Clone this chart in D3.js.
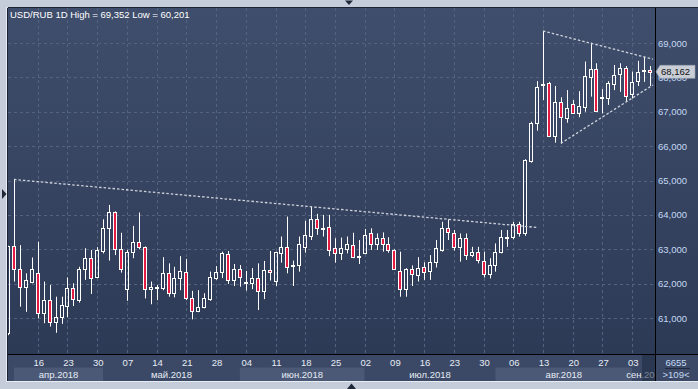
<!DOCTYPE html>
<html><head><meta charset="utf-8">
<script src="https://cdn.jsdelivr.net/npm/d3@7"></script>
<style>body{margin:0;background:#c4cdd9;overflow:hidden}svg{display:block}</style>
</head><body>
<svg id="c" width="698" height="389"></svg>
<script>
const title = "USD/RUB 1D High = 69,352 Low = 60,201";
const open  = [60.56,63.09,62.44,61.91,62.06,62.30,61.14,61.52,60.87,61.02,61.35,61.86,61.52,62.42,62.74,62.18,62.96,63.61,64.07,63.00,
61.84,62.91,63.20,63.06,61.84,61.88,61.86,62.30,61.72,62.16,62.33,61.57,61.19,61.31,61.54,62.16,62.33,62.85,62.12,62.42,
62.05,62.03,62.16,61.80,62.40,62.09,62.88,63.06,62.53,62.54,63.07,63.40,63.87,63.62,63.64,63.03,62.90,63.01,63.12,62.78,
62.90,63.46,63.14,63.32,63.14,62.98,62.37,61.84,62.42,62.25,62.48,62.37,62.62,62.98,63.61,63.46,63.07,63.32,62.82,62.93,
62.67,62.27,62.54,62.93,63.34,63.37,63.73,63.48,65.58,66.66,67.79,67.83,66.30,67.27,66.81,67.22,66.96,67.13,68.02,68.24,
67.40,67.39,67.80,68.09,68.26,67.51,67.89,68.19,68.21];
const high  = [63.10,65.03,63.12,62.30,62.76,63.22,62.06,61.96,61.62,61.62,62.18,62.01,62.49,63.03,62.98,63.06,63.87,64.29,64.10,63.48,
62.98,63.68,64.07,63.08,62.06,61.96,62.77,62.59,62.49,62.80,62.72,61.79,61.81,61.72,62.35,62.51,62.93,62.95,62.57,62.54,
62.37,62.45,62.59,62.66,62.95,62.93,63.37,63.95,62.67,63.37,63.83,64.24,64.03,64.00,64.00,63.32,63.34,63.37,63.48,63.27,
63.59,63.61,63.46,63.49,63.35,63.00,62.93,62.45,62.53,62.77,62.62,62.83,63.27,63.80,63.87,63.56,63.46,63.46,63.07,63.07,
62.93,62.74,63.17,63.56,63.56,63.80,63.80,65.62,66.71,67.89,69.35,67.87,67.75,67.42,67.63,67.34,67.60,68.46,69.01,68.41,
67.66,67.89,68.36,68.41,68.33,68.17,68.48,68.60,68.33];
const low   = [60.50,62.06,61.33,61.18,62.01,60.99,60.85,60.75,60.57,60.83,61.02,61.35,61.45,62.11,61.70,62.16,62.88,62.67,62.83,62.32,
61.50,62.74,63.00,61.57,61.40,61.52,61.81,61.62,61.60,61.81,61.52,60.96,61.17,61.28,61.50,62.11,62.16,61.99,61.93,61.91,
61.80,61.84,61.23,61.55,62.09,61.93,62.61,62.30,61.93,62.35,62.90,63.27,63.42,63.37,62.80,62.61,62.69,62.88,62.74,62.57,
62.86,62.98,62.98,62.93,62.90,62.40,61.62,61.62,61.93,62.06,62.11,62.11,62.47,62.93,63.27,62.96,62.64,62.69,62.77,62.59,
62.18,62.15,62.35,62.88,63.07,63.29,63.37,63.39,65.52,66.45,67.34,66.28,66.10,66.08,66.68,66.95,66.84,67.00,67.44,67.00,
66.95,67.20,67.63,67.58,67.29,67.39,67.75,67.87,67.75];
const close = [63.09,62.44,61.89,62.12,62.43,61.14,61.52,60.89,61.02,61.38,61.86,61.54,62.43,62.74,62.16,62.98,63.61,64.07,63.00,62.44,
62.91,63.20,63.06,61.84,61.91,61.89,62.30,61.72,62.16,62.37,61.57,61.19,61.31,61.57,62.20,62.33,62.88,62.12,62.42,62.20,
62.06,62.16,61.80,62.40,62.33,62.91,63.07,62.49,62.55,63.15,63.42,63.87,63.61,63.63,62.98,62.90,63.03,63.14,62.78,62.79,
63.42,63.15,63.32,63.14,62.98,62.44,61.84,62.42,62.27,62.45,62.33,62.63,63.03,63.61,63.49,63.07,63.32,62.83,62.93,62.69,
62.27,62.54,62.93,63.35,63.36,63.73,63.48,65.60,66.66,67.71,67.81,66.30,67.27,66.84,67.10,66.96,67.17,68.04,68.24,67.02,
67.42,67.83,68.07,68.26,67.46,67.87,68.17,68.21,68.162];

const priceTicks  = [61,62,63,64,65,66,67,68,69];
const priceLabels = ["61,000","62,000","63,000","64,000","65,000","66,000","67,000","68,000","69,000"];
const weekIdx    = [5,10,15,20,25,30,35,40,45,50,55,60,65,70,75,80,85,90,95,100,105];
const weekLabels = ["16","23","30","07","14","21","28","04","11","18","25","02","09","16","23","30","06","13","20","27","03"];
const monthLabels = ["апр.2018","май.2018","июн.2018","июл.2018","авг.2018","сен.20"];
const monthStart  = [1,16,39,60,82,105];
const lastValue = 68.162, lastLabel = "68,162";
const volumeLabel = "6655", countLabel = ">109<";
const trendLines = [
  {i0:1,  v0:65.03, i1:89.2,  v1:63.63},
  {i0:90, v0:69.35, i1:108.5, v1:68.53},
  {i0:93, v0:66.08, i1:108.5, v1:67.78}
];

const W=698,H=389, L=8, T=8, R=655, B=354, AB=381;
const FONT='"Liberation Sans", Arial, sans-serif';
const svg=d3.select("#c");
const x=d3.scaleLinear().domain([0,108]).range([8,650]);
const y=d3.scaleLinear().domain([61,69]).range([318,43]);

const defs=svg.append("defs");
const g1=defs.append("linearGradient").attr("id","bg").attr("x1",0).attr("y1",0).attr("x2",0).attr("y2",1);
g1.append("stop").attr("offset","0%").attr("stop-color","#3f4e6c");
g1.append("stop").attr("offset","100%").attr("stop-color","#2d3a56");
defs.append("clipPath").attr("id","pc").append("rect").attr("x",L).attr("y",T).attr("width",R-L).attr("height",B-T);

// frame
svg.append("rect").attr("width",W).attr("height",H).attr("fill","#c4cdd9");
svg.append("line").attr("x1",6.5).attr("x2",6.5).attr("y1",7).attr("y2",382).attr("stroke","#e8edf3");
svg.append("line").attr("x1",6).attr("x2",W).attr("y1",381.5).attr("y2",381.5).attr("stroke","#e8edf3");
// plot + right panel bg
svg.append("rect").attr("x",L).attr("y",T).attr("width",W-L).attr("height",B-T).attr("fill","url(#bg)");
// bottom axis bg
svg.append("rect").attr("x",L).attr("y",B).attr("width",W-L).attr("height",AB-B).attr("fill","#3b4966");
// month bands
monthLabels.forEach((m,k)=>{
  const x0 = x(monthStart[k]);
  const x1 = k<monthLabels.length-1 ? x(monthStart[k+1]) : R;
  svg.append("rect").attr("x",x0).attr("y",367.5).attr("width",x1-x0).attr("height",AB-367.5)
    .attr("fill", k%2===0 ? "#4b5976" : "#3b4966");
});
const gm=svg.append("g").attr("clip-path","url(#mc)");
defs.append("clipPath").attr("id","mc").append("rect").attr("x",L).attr("y",B).attr("width",R-L).attr("height",AB-B);
monthLabels.forEach((m,k)=>{
  const x0 = x(monthStart[k]);
  const last = k===monthLabels.length-1;
  const x1 = last ? R : x(monthStart[k+1]);
  gm.append("text").attr("x", last ? x0-6 : (x0+x1)/2).attr("y",377.5)
    .attr("text-anchor", last ? "start":"middle").attr("font-family",FONT).attr("font-size",9.5)
    .attr("fill","#e6ecf5").text(m);
});
svg.append("rect").attr("x",642).attr("y",355).attr("width",R-642).attr("height",AB-355).attr("fill","#1f2a40").attr("opacity",0.55);
// week labels
weekIdx.forEach((i,k)=>{
  svg.append("text").attr("x",x(i)+1).attr("y",365.5).attr("text-anchor","middle")
    .attr("font-family",FONT).attr("font-size",9.5).attr("fill","#e6ecf5").text(weekLabels[k]);
});

// grid
const grid=svg.append("g").attr("clip-path","url(#pc)").attr("stroke","#53627f").attr("stroke-dasharray","3,3");
priceTicks.forEach(v=>{
  grid.append("line").attr("x1",L).attr("x2",R).attr("y1",Math.round(y(v))+0.5).attr("y2",Math.round(y(v))+0.5);
});
weekIdx.forEach(i=>{
  grid.append("line").attr("y1",T).attr("y2",B).attr("x1",Math.round(x(i))+0.5).attr("x2",Math.round(x(i))+0.5);
});

// title
svg.append("text").attr("x",10).attr("y",18.4).attr("font-family",FONT).attr("font-size",9.5)
  .attr("fill","#ffffff").text(title);

// candles
const cg=svg.append("g").attr("clip-path","url(#pc)");
open.forEach((o,i)=>{
  const c=close[i], h=high[i], l=low[i];
  const cx=Math.round(x(i));
  const top=Math.round(y(Math.max(o,c))), bot=Math.round(y(Math.min(o,c)));
  const up = c>=o;
  cg.append("line").attr("x1",cx+0.5).attr("x2",cx+0.5).attr("y1",y(h)).attr("y2",top+0.5)
    .attr("stroke","#fff").attr("stroke-width",1);
  cg.append("line").attr("x1",cx+0.5).attr("x2",cx+0.5).attr("y1",bot+0.5).attr("y2",y(l))
    .attr("stroke","#fff").attr("stroke-width",1);
  cg.append("rect").attr("x",cx-1.5).attr("y",top+0.5).attr("width",3).attr("height",Math.max(1,bot-top))
    .attr("fill", up ? "none" : "#e41b43").attr("stroke","#fff").attr("stroke-width",1);
});

// trend lines
const tg=svg.append("g").attr("clip-path","url(#pc)");
trendLines.forEach(t=>{
  tg.append("line").attr("x1",x(t.i0)).attr("y1",y(t.v0)).attr("x2",x(t.i1)).attr("y2",y(t.v1))
    .attr("stroke","#cfd3db").attr("stroke-width",1.3).attr("stroke-dasharray","2.5,2");
});

// separators
svg.append("line").attr("x1",R+0.5).attr("x2",R+0.5).attr("y1",T).attr("y2",AB).attr("stroke","#000");
svg.append("line").attr("x1",L).attr("x2",W).attr("y1",B+0.5).attr("y2",B+0.5).attr("stroke","#000");
svg.append("line").attr("x1",L-0.5).attr("x2",L-0.5).attr("y1",T).attr("y2",AB).attr("stroke","#1b2334");
svg.append("line").attr("x1",L).attr("x2",W).attr("y1",T-0.5).attr("y2",T-0.5).attr("stroke","#1b2334");

// right axis labels
priceTicks.forEach((v,k)=>{
  svg.append("text").attr("x",658).attr("y",y(v)+3.5).attr("font-family",FONT).attr("font-size",9.5)
    .attr("fill","#c4d9f4").text(priceLabels[k]);
});
// price tag
const ty=y(lastValue);
svg.append("path").attr("d",`M656,${ty} L660,${ty-6.5} L695,${ty-6.5} L695,${ty+6.5} L660,${ty+6.5} Z`)
  .attr("fill","#c9ced6").attr("stroke","#9aa2b0").attr("stroke-width",0.6);
svg.append("text").attr("x",661).attr("y",ty+3.6).attr("font-family",FONT).attr("font-size",9.5)
  .attr("fill","#111").text(lastLabel);

// bottom right
svg.append("text").attr("x",676).attr("y",365.5).attr("text-anchor","middle").attr("font-family",FONT)
  .attr("font-size",9.5).attr("fill","#c4d9f4").text(volumeLabel);
svg.append("line").attr("x1",665).attr("x2",690).attr("y1",368.5).attr("y2",368.5).attr("stroke","#1f2a40");
svg.append("text").attr("x",676).attr("y",377.5).attr("text-anchor","middle").attr("font-family",FONT)
  .attr("font-size",9.5).attr("fill","#c4d9f4").text(countLabel);

// UI triangles
svg.append("path").attr("d","M345,0.5 L353,0.5 L349,5 Z").attr("fill","#1e2838");
svg.append("path").attr("d","M347,389 L356,389 L351.5,383.5 Z").attr("fill","#1e2838");
svg.append("path").attr("d","M2,189 L2,199 L6.5,194 Z").attr("fill","#1e2838");
</script>
</body></html>
